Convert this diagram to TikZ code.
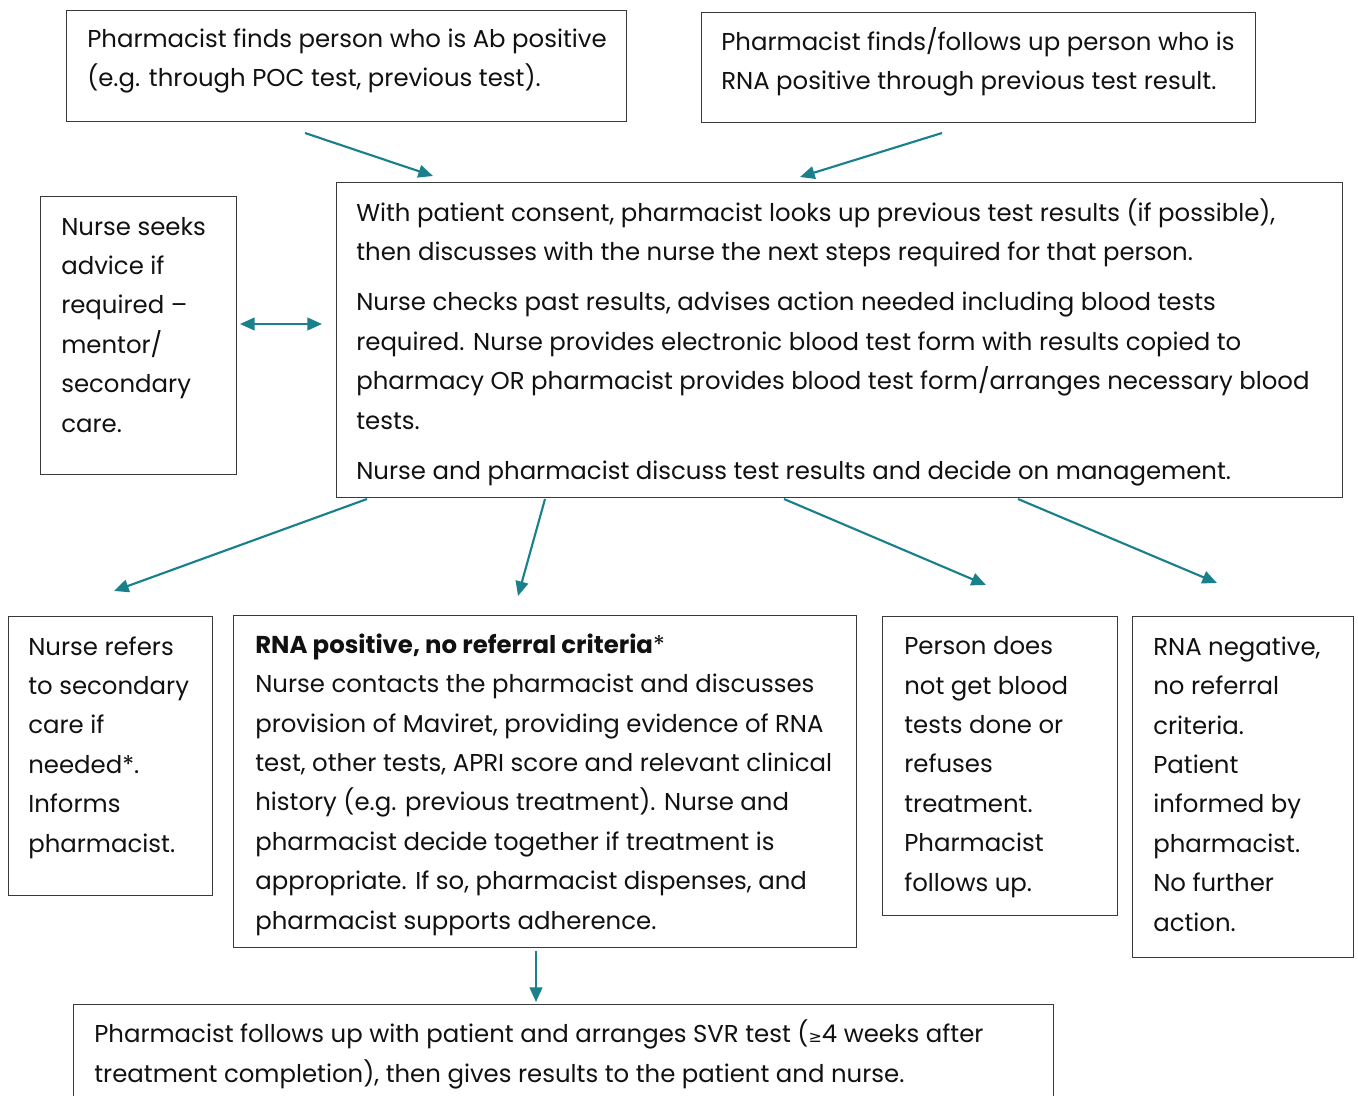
\documentclass[tikz,border=0pt]{standalone}
\usepackage{fontspec}
\setmainfont{Poppins}
\newfontfamily\symfont{DejaVu Sans}
\usetikzlibrary{arrows.meta}
\definecolor{flowteal}{HTML}{19808C}
\definecolor{boxline}{HTML}{3A3A3A}
\definecolor{bodytext}{HTML}{111111}
\begin{document}
\begin{tikzpicture}[x=0.75pt,y=-0.75pt,
  box/.style={draw=boxline, line width=0.9pt, rectangle, anchor=north west, inner sep=0pt},
  % text blocks are placed by the baseline of their last line
  txt/.style={anchor=base west, align=left, inner sep=0pt, text=bodytext,
    font=\fontsize{18.3}{29.55}\selectfont},
  flow/.style={draw=flowteal, line width=1.6pt, -{Triangle[length=11pt,width=9.5pt]}},
  flowboth/.style={draw=flowteal, line width=1.6pt, {Triangle[length=11pt,width=9.5pt]}-{Triangle[length=11pt,width=9.5pt]}}]
\clip (0,0) rectangle (1358,1095);
\useasboundingbox (0,0) rectangle (1358,1095);

% boxes
\node[box, minimum width=560pt*0.75, minimum height=111pt*0.75] (A) at (66,10) {};
\node[box, minimum width=554pt*0.75, minimum height=110pt*0.75] (B) at (701,12) {};
\node[box, minimum width=196pt*0.75, minimum height=278pt*0.75] (N) at (40,196) {};
\node[box, minimum width=1006pt*0.75, minimum height=315pt*0.75] (C) at (336,182) {};
\node[box, minimum width=204pt*0.75, minimum height=279pt*0.75] (D1) at (8,616) {};
\node[box, minimum width=623pt*0.75, minimum height=332pt*0.75] (D2) at (233,615) {};
\node[box, minimum width=235pt*0.75, minimum height=299pt*0.75] (D3) at (882,616) {};
\node[box, minimum width=221pt*0.75, minimum height=341pt*0.75] (D4) at (1132,616) {};
\node[box, minimum width=980pt*0.75, minimum height=120pt*0.75] (E) at (73,1004) {};

% texts
\node[txt] (tA) at (87,87) {Pharmacist finds person who is Ab positive\\(e.g. through POC test, previous test).};
\node[txt] (tB) at (721,90) {Pharmacist finds/follows up person who is\\RNA positive through previous test result.};
\node[txt] (tN) at (61,432) {Nurse seeks\\advice if\\required –\\mentor/\\secondary\\care.};
\node[txt] (tC) at (356,479) {With patient consent, pharmacist looks up previous test results (if possible),\\then discusses with the nurse the next steps required for that person.\\[7.95pt]Nurse checks past results, advises action needed including blood tests\\required. Nurse provides electronic blood test form with results copied to\\pharmacy OR pharmacist provides blood test form/arranges necessary blood\\tests.\\[7.95pt]Nurse and pharmacist discuss test results and decide on management.};
\node[txt] (tD1) at (28,852) {Nurse refers\\to secondary\\care if\\needed*.\\Informs\\pharmacist.};
\node[txt] (tD2) at (255,929) {\textbf{RNA positive, no referral criteria}*\\Nurse contacts the pharmacist and discusses\\provision of Maviret, providing evidence of RNA\\test, other tests, APRI score and relevant clinical\\history (e.g. previous treatment). Nurse and\\pharmacist decide together if treatment is\\appropriate. If so, pharmacist dispenses, and\\pharmacist supports adherence.};
\node[txt] (tD3) at (904,891) {Person does\\not get blood\\tests done or\\refuses\\treatment.\\Pharmacist\\follows up.};
\node[txt] (tD4) at (1153,931) {RNA negative,\\no referral\\criteria.\\Patient\\informed by\\pharmacist.\\No further\\action.};
\node[txt] (tE) at (94,1082) {Pharmacist follows up with patient and arranges SVR test ({\symfont\fontsize{12}{12}\selectfont ≥}4 weeks after\\treatment completion), then gives results to the patient and nurse.};

% connector ends
\coordinate (a1s) at (305,133); \coordinate (a1e) at (433,176);
\coordinate (a2s) at (942,133); \coordinate (a2e) at (800,177);
\coordinate (nL) at (240,324);  \coordinate (nR) at (322,324);
\coordinate (c1s) at (367,499); \coordinate (c1e) at (114,591);
\coordinate (c2s) at (545,499); \coordinate (c2e) at (518,596);
\coordinate (c3s) at (784,499); \coordinate (c3e) at (986,585);
\coordinate (c4s) at (1018,499); \coordinate (c4e) at (1217,583);
\coordinate (d2s) at (536,951); \coordinate (d2e) at (536,1002);

% connectors
\draw[flow] (a1s) -- (a1e);
\draw[flow] (a2s) -- (a2e);
\draw[flowboth] (nL) -- (nR);
\draw[flow] (c1s) -- (c1e);
\draw[flow] (c2s) -- (c2e);
\draw[flow] (c3s) -- (c3e);
\draw[flow] (c4s) -- (c4e);
\draw[flow] (d2s) -- (d2e);
\end{tikzpicture}
\end{document}
